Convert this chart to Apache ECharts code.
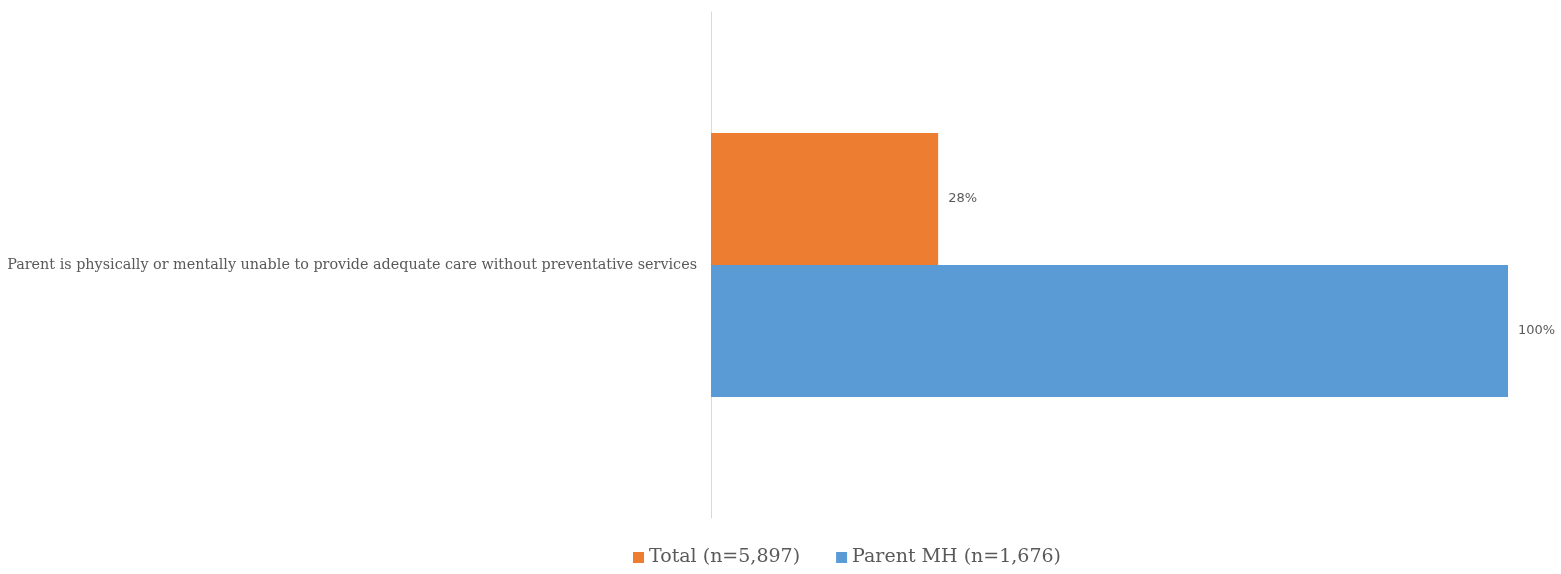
<!DOCTYPE html>
<html>
<head>
<meta charset="utf-8">
<script src="https://cdn.jsdelivr.net/npm/echarts@6/dist/echarts.min.js"></script>
<style>html,body{margin:0;padding:0;background:#fff;}#c{width:1561px;height:574px;}</style>
</head>
<body>
<div id="c"></div>
<script>
const categories = ["Parent is physically or mentally unable to provide adequate care without preventative services"];
const seriesNames = ["Total (n=5,897)", "Parent MH (n=1,676)"];
const totalValues = [0.285];
const parentMHValues = [1.00];

const chart = echarts.init(document.getElementById('c'));
const labelStyle = {
  show: true, position: 'right', distance: 10,
  formatter: p => Math.floor(p.value * 100 + 1e-9) + '%',
  color: '#595959', fontFamily: 'DejaVu Sans', fontSize: 13
};
chart.setOption({
  animation: false,
  grid: { left: 711, right: 53, top: 12, bottom: 56, containLabel: false },
  legend: {
    data: seriesNames, left: 628, top: 543, itemWidth: 11, itemHeight: 11, itemGap: 36,
    icon: 'rect',
    textStyle: { fontFamily: 'DejaVu Serif', fontSize: 19, color: '#595959' }
  },
  xAxis: {
    type: 'value', min: 0, max: 1,
    axisLine: { show: false }, axisTick: { show: false }, axisLabel: { show: false }, splitLine: { show: false }
  },
  yAxis: {
    type: 'category', data: categories,
    axisLine: { show: true, lineStyle: { color: '#d9d9d9', width: 1 } },
    axisTick: { show: false },
    axisLabel: { margin: 14, fontFamily: 'DejaVu Serif', fontSize: 14.35, color: '#595959' }
  },
  series: [
    { name: seriesNames[0], type: 'bar', data: totalValues, barWidth: 132, barGap: '0%',
      itemStyle: { color: '#ED7D31' }, label: labelStyle },
    { name: seriesNames[1], type: 'bar', data: parentMHValues, barWidth: 132, barGap: '0%',
      itemStyle: { color: '#5B9BD5' }, label: labelStyle }
  ]
});
</script>
</body>
</html>
